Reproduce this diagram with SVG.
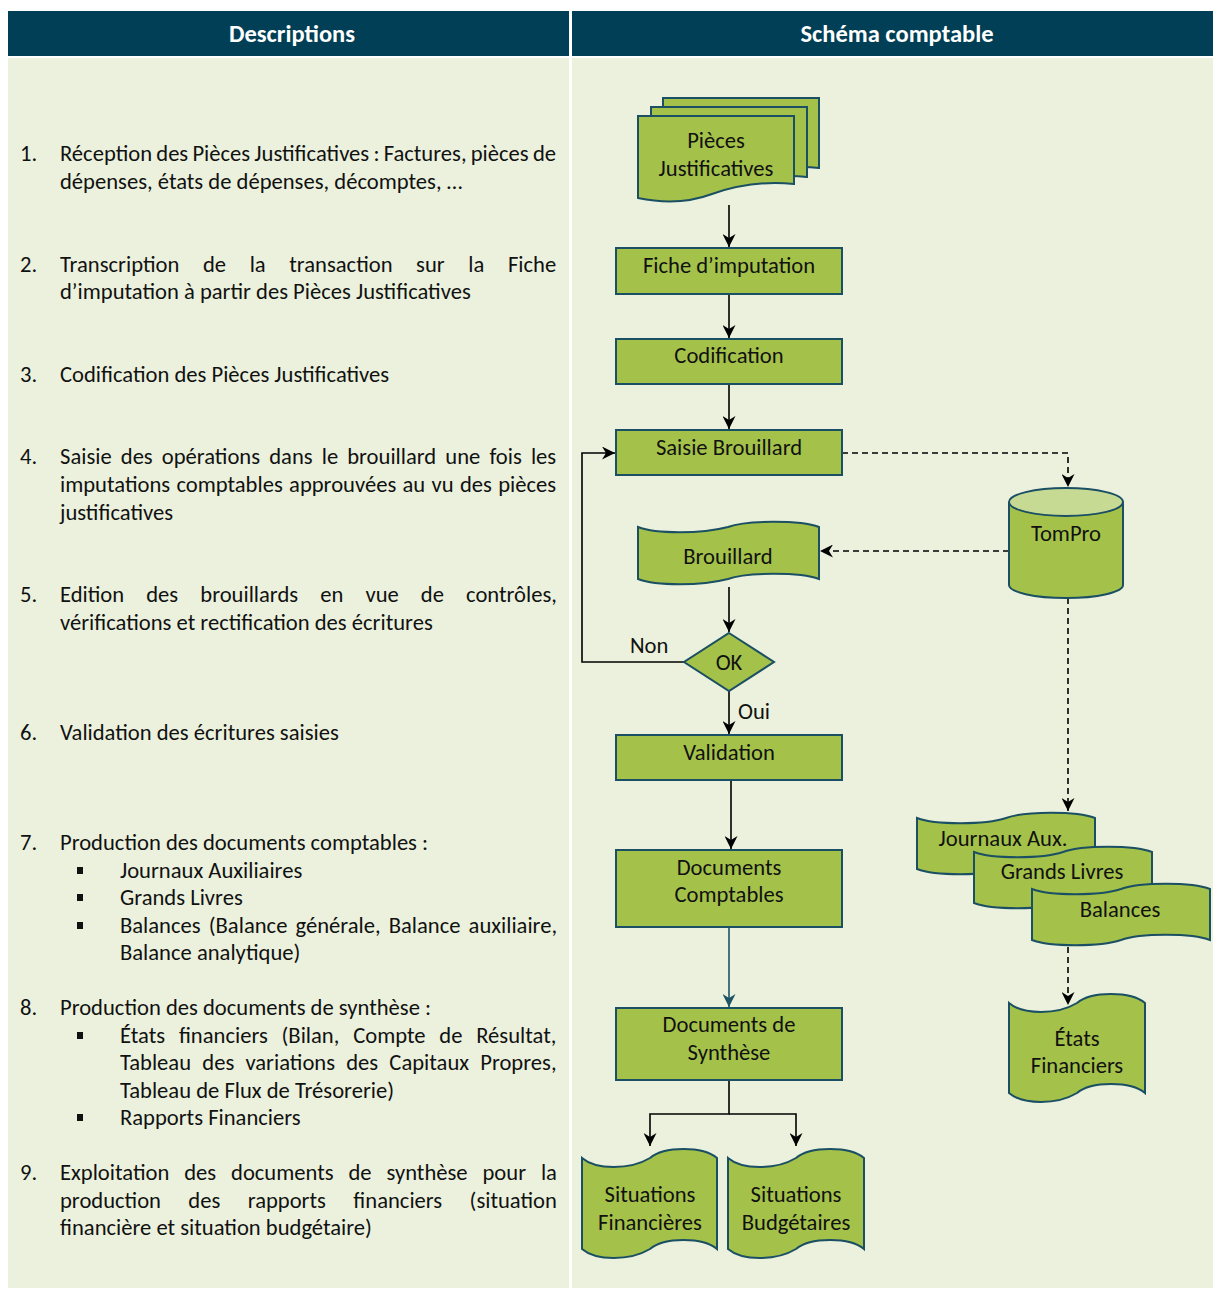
<svg xmlns="http://www.w3.org/2000/svg" width="1214" height="1289" viewBox="0 0 1214 1289">
<style>
.hdr{fill:#003f55}
.bg{fill:#ebf1dd}
.ht{font-family:Carlito,Lato,"Liberation Sans",sans-serif;font-size:24.5px;font-weight:bold;fill:#ffffff;text-anchor:middle}
.tx{font-family:Carlito,Lato,"Liberation Sans",sans-serif;font-size:22.6px;fill:#111}
.nt{font-family:Carlito,Lato,"Liberation Sans",sans-serif;font-size:22.6px;fill:#111;text-anchor:middle}
.nd{fill:#a4c24a;stroke:#1b4f63;stroke-width:2}
.ndl{fill:#c6da93;stroke:#1b4f63;stroke-width:2}
.ln{fill:none;stroke:#000;stroke-width:1.6}
.lnt{fill:none;stroke:#1d5466;stroke-width:1.6}
.ds{fill:none;stroke:#000;stroke-width:1.6;stroke-dasharray:6 4}
.bul{fill:#111}
</style>
<defs>
<marker id="ah" markerUnits="userSpaceOnUse" markerWidth="14" markerHeight="13" refX="13" refY="6.5" orient="auto">
<path d="M0,0 L13,6.5 L0,13 L4,6.5 Z" fill="#000"/>
</marker>
<marker id="aht" markerUnits="userSpaceOnUse" markerWidth="14" markerHeight="13" refX="13" refY="6.5" orient="auto">
<path d="M0,0 L13,6.5 L0,13 L4,6.5 Z" fill="#1d5466"/>
</marker>
</defs>
<rect width="1214" height="1289" fill="#ffffff"/>
<g id="table">
<rect class="hdr" x="8" y="11" width="561" height="45"/>
<rect class="hdr" x="572" y="11" width="641" height="45"/>
<rect class="bg" x="8" y="58" width="561" height="1230"/>
<rect class="bg" x="572" y="58" width="641" height="1230"/>
<text class="ht" x="292" y="42">Descriptions</text>
<text class="ht" x="897" y="42">Schéma comptable</text>
</g>
<g id="descriptions">
<text class="tx" x="20" y="161">1.</text>
<text class="tx" x="60" y="161" style="word-spacing:-0.9px">Réception des Pièces Justificatives : Factures, pièces de</text>
<text class="tx" x="60" y="189">dépenses, états de dépenses, décomptes, …</text>
<text class="tx" x="20" y="272">2.</text>
<text class="tx" x="60" y="272" style="word-spacing:18.5px">Transcription de la transaction sur la Fiche</text>
<text class="tx" x="60" y="299">d’imputation à partir des Pièces Justificatives</text>
<text class="tx" x="20" y="382">3.</text>
<text class="tx" x="60" y="382">Codification des Pièces Justificatives</text>
<text class="tx" x="20" y="464">4.</text>
<text class="tx" x="60" y="464" style="word-spacing:4px">Saisie des opérations dans le brouillard une fois les</text>
<text class="tx" x="60" y="492" style="word-spacing:1.2px">imputations comptables approuvées au vu des pièces</text>
<text class="tx" x="60" y="520">justificatives</text>
<text class="tx" x="20" y="602">5.</text>
<text class="tx" x="60" y="602" style="word-spacing:17px">Edition des brouillards en vue de contrôles,</text>
<text class="tx" x="60" y="630">vérifications et rectification des écritures</text>
<text class="tx" x="20" y="740">6.</text>
<text class="tx" x="60" y="740">Validation des écritures saisies</text>
<text class="tx" x="20" y="850">7.</text>
<text class="tx" x="60" y="850">Production des documents comptables :</text>
<rect class="bul" x="77" y="867" width="6" height="7"/>
<text class="tx" x="120" y="878">Journaux Auxiliaires</text>
<rect class="bul" x="77" y="894" width="6" height="7"/>
<text class="tx" x="120" y="905">Grands Livres</text>
<rect class="bul" x="77" y="922" width="6" height="7"/>
<text class="tx" x="120" y="933" style="word-spacing:3px">Balances (Balance générale, Balance auxiliaire,</text>
<text class="tx" x="120" y="960">Balance analytique)</text>
<text class="tx" x="20" y="1015">8.</text>
<text class="tx" x="60" y="1015">Production des documents de synthèse :</text>
<rect class="bul" x="77" y="1032" width="6" height="7"/>
<text class="tx" x="120" y="1043" style="word-spacing:8.7px">États financiers (Bilan, Compte de Résultat,</text>
<text class="tx" x="120" y="1070" style="word-spacing:6.1px">Tableau des variations des Capitaux Propres,</text>
<text class="tx" x="120" y="1098">Tableau de Flux de Trésorerie)</text>
<rect class="bul" x="77" y="1114" width="6" height="7"/>
<text class="tx" x="120" y="1125">Rapports Financiers</text>
<text class="tx" x="20" y="1180">9.</text>
<text class="tx" x="60" y="1180" style="word-spacing:9.8px">Exploitation des documents de synthèse pour la</text>
<text class="tx" x="60" y="1208" style="word-spacing:22.3px">production des rapports financiers (situation</text>
<text class="tx" x="60" y="1235">financière et situation budgétaire)</text>
</g>
<g id="connectors">
<line class="ln" x1="729" y1="205" x2="729" y2="247" marker-end="url(#ah)"/>
<line class="ln" x1="729" y1="294" x2="729" y2="338" marker-end="url(#ah)"/>
<line class="ln" x1="729" y1="384" x2="729" y2="429" marker-end="url(#ah)"/>
<polyline class="ds" points="842,453 1068,453 1068,487" marker-end="url(#ah)"/>
<line class="ds" x1="1009" y1="551" x2="820" y2="551" marker-end="url(#ah)"/>
<line class="ln" x1="729" y1="587" x2="729" y2="632" marker-end="url(#ah)"/>
<polyline class="ln" points="684,662 582,662 582,453 615,453" marker-end="url(#ah)"/>
<line class="ln" x1="729" y1="691" x2="729" y2="734" marker-end="url(#ah)"/>
<line class="ln" x1="731" y1="780" x2="731" y2="849" marker-end="url(#ah)"/>
<line class="lnt" x1="729" y1="927" x2="729" y2="1007" marker-end="url(#aht)"/>
<polyline class="ln" points="729,1080 729,1114 650,1114 650,1146" marker-end="url(#ah)"/>
<polyline class="ln" points="729,1114 796,1114 796,1146" marker-end="url(#ah)"/>
<line class="ds" x1="1068" y1="598" x2="1068" y2="811" marker-end="url(#ah)"/>
<line class="ds" x1="1068" y1="947" x2="1068" y2="1005" marker-end="url(#ah)"/>
<text class="tx" x="630" y="653">Non</text>
<text class="tx" x="738" y="719">Oui</text>
</g>
<g id="pieces">
<path class="nd" d="M663,98 H819 V168 C790,165 760,170 740,177 C715,186 690,186 663,180 Z"/>
<path class="nd" d="M651,107 H807 V177 C778,174 748,179 728,186 C703,195 678,195 651,189 Z"/>
<path class="nd" d="M638,116 H794 V184 C765,181 735,186 712,194 C688,203 662,203 638,198 Z"/>
<text class="nt" x="716" y="148">Pièces</text>
<text class="nt" x="716" y="176">Justificatives</text>
</g>
<g id="fiche">
<rect class="nd" x="616" y="248" width="226" height="46"/>
<text class="nt" x="729" y="273">Fiche d’imputation</text>
</g>
<g id="codification">
<rect class="nd" x="616" y="339" width="226" height="45"/>
<text class="nt" x="729" y="363">Codification</text>
</g>
<g id="saisie">
<rect class="nd" x="616" y="430" width="226" height="45"/>
<text class="nt" x="729" y="455">Saisie Brouillard</text>
</g>
<g id="tompro">
<path class="nd" d="M1009,502 V585 A57,13 0 0 0 1123,585 V502"/>
<ellipse class="ndl" cx="1066" cy="502" rx="57" ry="14"/>
<text class="nt" x="1066" y="541">TomPro</text>
</g>
<g id="brouillard">
<path class="nd" d="M638,527 C656,534 701,534 728,527 C746,520 801,520 819,527 V579 C801,572 746,572 728,579 C701,586 656,586 638,579 Z"/>
<text class="nt" x="728" y="564">Brouillard</text>
</g>
<g id="ok">
<path class="nd" d="M729,633 L774,662 L729,691 L684,662 Z"/>
<text class="nt" x="729" y="670">OK</text>
</g>
<g id="validation">
<rect class="nd" x="616" y="735" width="226" height="45"/>
<text class="nt" x="729" y="760">Validation</text>
</g>
<g id="documents-comptables">
<rect class="nd" x="616" y="850" width="226" height="77"/>
<text class="nt" x="729" y="875">Documents</text>
<text class="nt" x="729" y="902">Comptables</text>
</g>
<g id="documents-synthese">
<rect class="nd" x="616" y="1008" width="226" height="72"/>
<text class="nt" x="729" y="1032">Documents de</text>
<text class="nt" x="729" y="1060">Synthèse</text>
</g>
<g id="situations-financieres">
<path class="nd" d="M582,1158 C596,1170 630,1170 650,1158 C664,1146 703,1146 717,1158 V1249 C703,1237 664,1237 650,1249 C630,1261 596,1261 582,1249 Z"/>
<text class="nt" x="650" y="1202">Situations</text>
<text class="nt" x="650" y="1230">Financières</text>
</g>
<g id="situations-budgetaires">
<path class="nd" d="M728,1158 C742,1170 776,1170 796,1158 C810,1146 850,1146 864,1158 V1249 C850,1237 810,1237 796,1249 C776,1261 742,1261 728,1249 Z"/>
<text class="nt" x="796" y="1202">Situations</text>
<text class="nt" x="796" y="1230">Budgétaires</text>
</g>
<g id="journaux">
<path class="nd" d="M917,818 C935,825 985,825 1006,818 C1025,811 1077,811 1095,818 V869 C1077,862 1025,862 1006,869 C985,876 935,876 917,869 Z"/>
<text class="nt" x="1003" y="846">Journaux Aux.</text>
</g>
<g id="grands-livres">
<path class="nd" d="M974,852 C992,859 1042,859 1063,852 C1082,845 1134,845 1152,852 V903 C1134,896 1082,896 1063,903 C1042,910 992,910 974,903 Z"/>
<text class="nt" x="1062" y="879">Grands Livres</text>
</g>
<g id="balances">
<path class="nd" d="M1032,889 C1050,896 1100,896 1121,889 C1140,882 1192,882 1210,889 V940 C1192,933 1140,933 1121,940 C1100,947 1050,947 1032,940 Z"/>
<text class="nt" x="1120" y="917">Balances</text>
</g>
<g id="etats-financiers">
<path class="nd" d="M1009,1003 C1023,1015 1057,1015 1077,1003 C1091,991 1131,991 1145,1003 V1093 C1131,1081 1091,1081 1077,1093 C1057,1105 1023,1105 1009,1093 Z"/>
<text class="nt" x="1077" y="1046">États</text>
<text class="nt" x="1077" y="1073">Financiers</text>
</g>
</svg>
